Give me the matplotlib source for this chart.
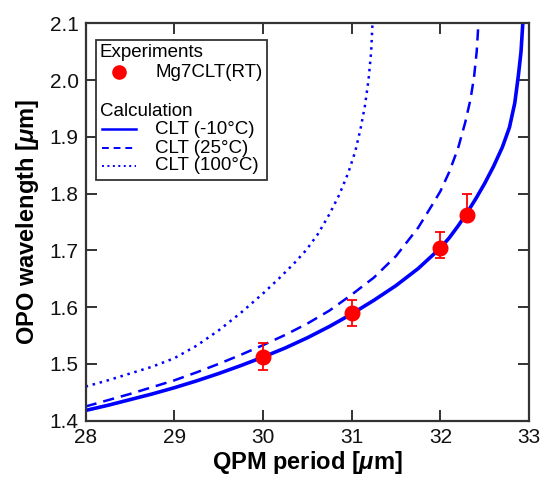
import matplotlib
matplotlib.use("Agg")
import matplotlib.pyplot as plt
from matplotlib.patches import Rectangle

plt.rcParams['font.family'] = ['Liberation Sans', 'DejaVu Sans']
plt.rcParams['mathtext.fontset'] = 'custom'
plt.rcParams['mathtext.it'] = 'Liberation Sans:italic:bold'
plt.rcParams['mathtext.rm'] = 'Liberation Sans:bold'
plt.rcParams['mathtext.bf'] = 'Liberation Sans:bold'

# ---- data ----
exp_period = [30.0, 31.0, 32.0, 32.3]
exp_wavelength = [1.513, 1.590, 1.704, 1.763]
exp_err_low = [0.024, 0.023, 0.018, 0.012]
exp_err_high = [0.023, 0.022, 0.029, 0.036]

calc_m10_period = [28.00, 28.25, 28.50, 28.75, 29.00, 29.25, 29.50, 29.75, 30.00, 30.25, 30.50,
                   30.75, 31.00, 31.25, 31.50, 31.75, 32.00, 32.10, 32.20, 32.30, 32.40, 32.50,
                   32.60, 32.70, 32.78, 32.84, 32.88, 32.91, 32.93]
calc_m10_wl = [1.418, 1.427, 1.437, 1.447, 1.458, 1.470, 1.483, 1.497, 1.512, 1.528, 1.546,
               1.566, 1.588, 1.612, 1.638, 1.668, 1.704, 1.722, 1.743, 1.766, 1.791, 1.818,
               1.848, 1.882, 1.917, 1.960, 2.008, 2.050, 2.100]

calc_25_period = [28.00, 28.25, 28.50, 28.75, 29.00, 29.25, 29.50, 29.75, 30.00, 30.25, 30.50,
                  30.75, 31.00, 31.25, 31.50, 31.75, 31.90, 32.00, 32.10, 32.20, 32.28, 32.34,
                  32.38, 32.41, 32.43]
calc_25_wl = [1.425, 1.436, 1.447, 1.459, 1.471, 1.485, 1.500, 1.516, 1.533, 1.551, 1.571,
              1.594, 1.622, 1.652, 1.690, 1.740, 1.778, 1.804, 1.838, 1.880, 1.925, 1.966,
              2.005, 2.050, 2.100]

calc_100_period = [28.00, 28.25, 28.50, 28.75, 29.00, 29.25, 29.50, 29.75, 30.00, 30.19, 30.35,
                   30.49, 30.62, 30.75, 30.86, 30.96, 31.04, 31.10, 31.15, 31.19, 31.22, 31.235]
calc_100_wl = [1.460, 1.471, 1.483, 1.495, 1.510, 1.532, 1.559, 1.590, 1.624, 1.652, 1.677,
               1.701, 1.729, 1.764, 1.798, 1.836, 1.874, 1.914, 1.955, 2.000, 2.050, 2.100]

x_ticks = [28, 29, 30, 31, 32, 33]
y_ticks = [1.4, 1.5, 1.6, 1.7, 1.8, 1.9, 2.0, 2.1]

BLUE = '#0000ff'
RED = '#ff0000'
SPINE = '#333333'

fig = plt.figure(figsize=(5.42, 4.78), dpi=100)
ax = fig.add_axes([0.158, 0.120, 0.818, 0.831])

ax.plot(calc_m10_period, calc_m10_wl, color=BLUE, lw=2.6, solid_joinstyle='round')
ax.plot(calc_25_period, calc_25_wl, color=BLUE, lw=1.8, dashes=(4.5, 2.8))
ax.plot(calc_100_period, calc_100_wl, color=BLUE, lw=1.8, dashes=(1.0, 1.9))

ax.errorbar(exp_period, exp_wavelength, yerr=[exp_err_low, exp_err_high], fmt='o',
            color=RED, ms=10.5, ecolor=RED, elinewidth=1.3, capsize=3.5, capthick=1.3, zorder=5)

ax.set_xlim(28, 33)
ax.set_ylim(1.4, 2.1)
ax.set_xticks(x_ticks)
ax.set_yticks(y_ticks)
ax.set_yticklabels([f'{v:.1f}' for v in y_ticks])
ax.tick_params(direction='in', length=8, width=1.3, color='#222222', top=True, right=True,
               labelsize=15, pad=5, labelcolor='#111111')
for s in ax.spines.values():
    s.set_linewidth(1.6)
    s.set_color(SPINE)

ax.set_xlabel(r'QPM period [$\mathit{\mu}$m]', fontsize=17, fontweight='bold', labelpad=2)
ax.set_ylabel(r'OPO wavelength [$\mathit{\mu}$m]', fontsize=17, fontweight='bold', labelpad=6)

# ---- legend drawn in axes coordinates ----
T = ax.transAxes
ax.add_patch(Rectangle((0.0237, 0.606), 0.385, 0.352, transform=T, fill=True, facecolor='white',
                       edgecolor=SPINE, lw=1.3, zorder=6))
fs = 13.5
ax.text(0.032, 0.915, 'Experiments', transform=T, fontsize=fs, va='baseline', zorder=7)
ax.plot([0.076], [0.877], 'o', color=RED, ms=9.5, transform=T, zorder=7, clip_on=False)
ax.text(0.157, 0.866, 'Mg7CLT(RT)', transform=T, fontsize=fs, va='baseline', zorder=7)
ax.text(0.032, 0.767, 'Calculation', transform=T, fontsize=fs, va='baseline', zorder=7)
ax.plot([0.0365, 0.114], [0.734, 0.734], color=BLUE, lw=1.8, transform=T, zorder=7)
ax.text(0.157, 0.721, 'CLT (-10°C)', transform=T, fontsize=fs, va='baseline', zorder=7)
ax.plot([0.0365, 0.114], [0.686, 0.686], color=BLUE, lw=1.4, dashes=(3.5, 2.5), transform=T, zorder=7)
ax.text(0.157, 0.675, 'CLT (25°C)', transform=T, fontsize=fs, va='baseline', zorder=7)
ax.plot([0.0365, 0.114], [0.641, 0.641], color=BLUE, lw=1.4, dashes=(1.0, 1.8), transform=T, zorder=7)
ax.text(0.157, 0.631, 'CLT (100°C)', transform=T, fontsize=fs, va='baseline', zorder=7)

fig.savefig('out.png', dpi=100)
